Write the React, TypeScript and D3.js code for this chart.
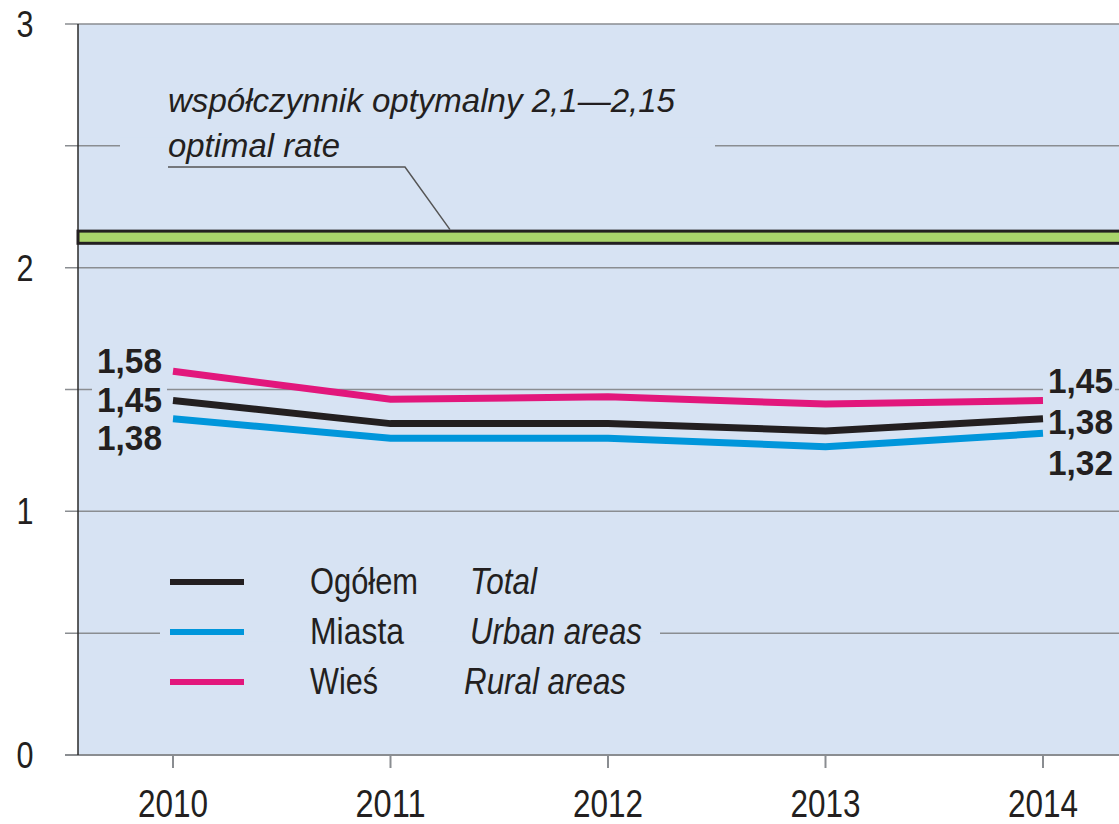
import React from "react";
import * as d3 from "d3";

const years = ["2010", "2011", "2012", "2013", "2014"];
const total = [1.455, 1.36, 1.36, 1.33, 1.38];
const urban = [1.38, 1.3, 1.3, 1.265, 1.32];
const rural = [1.575, 1.46, 1.47, 1.44, 1.455];
const leftLabels = ["1,58", "1,45", "1,38"];
const rightLabels = ["1,45", "1,38", "1,32"];
const yTicks = [0, 1, 2, 3];
const gridValues = [0.5, 1, 1.5, 2, 2.5, 3];
const optimalBand = [2.1, 2.15];
const legendPl = ["Ogółem", "Miasta", "Wieś"];
const legendEn = ["Total", "Urban areas", "Rural areas"];
const annotation = ["współczynnik optymalny 2,1—2,15", "optimal rate"];

const W = 1119;
const H = 824;
const FONT = "'Liberation Sans', Arial, sans-serif";
const BG = "#d7e3f3";
const GRID = "#8a8d91";
const INK = "#231f20";
const colors = ["#231f20", "#0096db", "#e2177c"];

function T(props: any) {
  const { len, children, ...rest } = props;
  return (
    <text {...rest} textLength={len} lengthAdjust="spacingAndGlyphs" fill={INK}>
      {children}
    </text>
  );
}

export default function App() {
  const x = d3.scalePoint<string>().domain(years).range([173, 1043]);
  const y = d3.scaleLinear().domain([0, 3]).range([755, 24]);
  const plotLeft = 78;
  const plotRight = 1130;
  const series = [total, urban, rural];
  const line = d3
    .line<number>()
    .x((_, i) => x(years[i]) as number)
    .y((d) => y(d));

  const enX = [470, 470, 464];
  const enLen = [67, 172, 162];
  const plLen = [108, 94, 68];

  return (
    <svg
      width={W}
      height={H}
      style={{ position: "absolute", left: 0, top: 0, background: "#fff" }}
      fontFamily={FONT}
    >
      <rect x={plotLeft} y={y(3)} width={plotRight - plotLeft} height={y(0) - y(3)} fill={BG} />
      {gridValues.map((v) => (
        <line key={v} x1={65} x2={plotRight} y1={y(v)} y2={y(v)} stroke={GRID} strokeWidth={1.5} />
      ))}
      {/* gaps in gridlines behind labels */}
      <rect x={120} y={y(2.5) - 8} width={595} height={16} fill={BG} />
      <rect x={92} y={y(1.5) - 8} width={75} height={16} fill={BG} />
      <rect x={1043} y={y(1.5) - 8} width={72} height={16} fill={BG} />
      <rect x={160} y={y(0.5) - 8} width={500} height={16} fill={BG} />
      {/* axes */}
      <line x1={65} x2={plotRight} y1={y(0)} y2={y(0)} stroke={GRID} strokeWidth={2} />
      <line x1={plotLeft} x2={plotLeft} y1={y(3)} y2={y(0)} stroke="#2a2a2a" strokeWidth={1.5} />
      {years.map((yr) => (
        <g key={yr}>
          <line x1={x(yr)} x2={x(yr)} y1={y(0)} y2={y(0) + 13} stroke={GRID} strokeWidth={2} />
          <T x={x(yr)} y={817} textAnchor="middle" fontSize={38} len={70}>
            {yr}
          </T>
        </g>
      ))}
      {yTicks.map((t) => (
        <T key={t} x={25} y={y(t) + 13} textAnchor="middle" fontSize={36} len={17}>
          {t}
        </T>
      ))}
      {/* optimal band */}
      <rect
        x={plotLeft}
        y={y(optimalBand[1])}
        width={plotRight - plotLeft}
        height={y(optimalBand[0]) - y(optimalBand[1])}
        fill="#a9d46b"
        stroke={INK}
        strokeWidth={3}
      />
      <T x={168} y={112} fontSize={33} fontStyle="italic" len={507}>
        {annotation[0]}
      </T>
      <T x={168} y={157} fontSize={33} fontStyle="italic" len={172}>
        {annotation[1]}
      </T>
      <polyline
        points={`168,167 405,167 450,${y(optimalBand[1]) - 1.5}`}
        fill="none"
        stroke="#555"
        strokeWidth={1.5}
      />
      {/* series */}
      {series.map((s, i) => (
        <path key={i} d={line(s) as string} fill="none" stroke={colors[i]} strokeWidth={7} />
      ))}
      {leftLabels.map((l, i) => (
        <T key={l + i} x={97} y={373 + i * 38.5} fontSize={35} fontWeight="bold" len={65}>
          {l}
        </T>
      ))}
      {rightLabels.map((l, i) => (
        <T key={l + i} x={1048} y={393 + i * 41} fontSize={35} fontWeight="bold" len={65}>
          {l}
        </T>
      ))}
      {/* legend */}
      {legendPl.map((l, i) => (
        <g key={l}>
          <line x1={170} x2={244} y1={582 + i * 50} y2={582 + i * 50} stroke={colors[i]} strokeWidth={6} />
          <T x={310} y={594 + i * 50} fontSize={37} len={plLen[i]}>
            {l}
          </T>
          <T x={enX[i]} y={594 + i * 50} fontSize={37} fontStyle="italic" len={enLen[i]}>
            {legendEn[i]}
          </T>
        </g>
      ))}
    </svg>
  );
}
